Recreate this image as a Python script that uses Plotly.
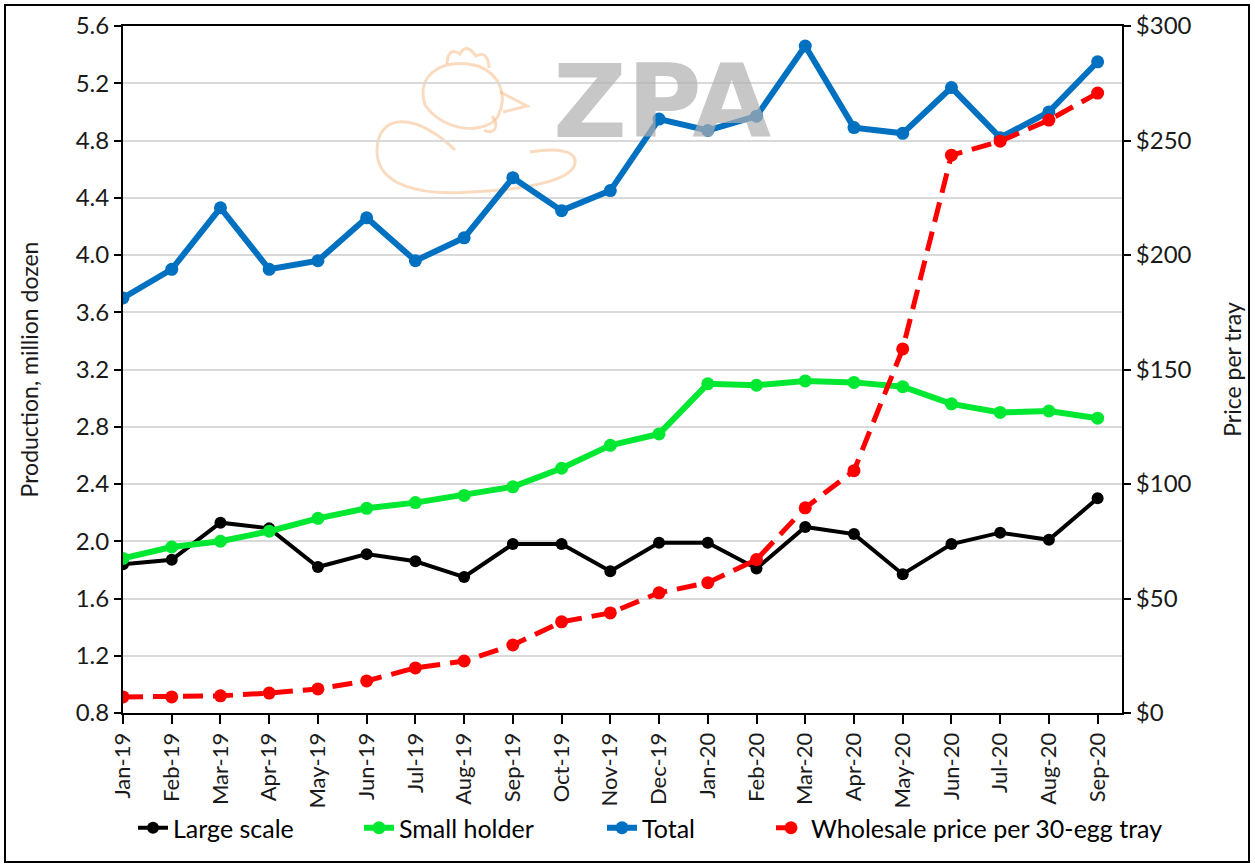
import plotly.graph_objects as go

months = ["Jan-19", "Feb-19", "Mar-19", "Apr-19", "May-19", "Jun-19", "Jul-19",
          "Aug-19", "Sep-19", "Oct-19", "Nov-19", "Dec-19", "Jan-20", "Feb-20",
          "Mar-20", "Apr-20", "May-20", "Jun-20", "Jul-20", "Aug-20", "Sep-20"]

large_scale = [1.84, 1.87, 2.13, 2.09, 1.82, 1.91, 1.86, 1.75, 1.98, 1.98, 1.79,
               1.99, 1.99, 1.81, 2.10, 2.05, 1.77, 1.98, 2.06, 2.01, 2.30]
small_holder = [1.88, 1.96, 2.00, 2.07, 2.16, 2.23, 2.27, 2.32, 2.38, 2.51, 2.67,
                2.75, 3.10, 3.09, 3.12, 3.11, 3.08, 2.96, 2.90, 2.91, 2.86]
total = [3.70, 3.90, 4.33, 3.90, 3.96, 4.26, 3.96, 4.12, 4.54, 4.31, 4.45,
         4.95, 4.87, 4.97, 5.46, 4.89, 4.85, 5.17, 4.82, 5.00, 5.35]
price = [7, 7, 7.5, 8.7, 10.5, 14, 19.7, 22.7, 29.7, 39.8, 43.7,
         52.5, 56.9, 67, 89.6, 105.8, 159, 243.6, 249.7, 258.9, 270.7]

FONT = "Lato"
TXT = "#1a1a1a"
PL, PW, PT, PH = 123, 999, 26, 687


def px(x):
    return (x - PL) / PW


def py(y):
    return (PT + PH - y) / PH


fig = go.Figure()
fig.add_trace(go.Scatter(x=months, y=large_scale, name="Large scale", legend="legend",
                         mode="lines+markers", line=dict(color="#000000", width=4),
                         marker=dict(size=12, color="#000000")))
fig.add_trace(go.Scatter(x=months, y=small_holder, name="Small holder", legend="legend2",
                         mode="lines+markers", line=dict(color="#00E832", width=6),
                         marker=dict(size=13, color="#00E832")))
fig.add_trace(go.Scatter(x=months, y=total, name="Total", legend="legend3",
                         mode="lines+markers", line=dict(color="#0070C0", width=6),
                         marker=dict(size=13, color="#0070C0")))
fig.add_trace(go.Scatter(x=months, y=price, name="Wholesale price per 30-egg tray",
                         legend="legend4", mode="lines+markers", yaxis="y2",
                         line=dict(color="#FF0000", width=5, dash="20px,10px"),
                         marker=dict(size=13, color="#FF0000")))


def leg(text_x):
    # legend whose entry text begins near pixel text_x
    return dict(orientation="h", x=px(text_x - 41), xanchor="left",
                y=py(828), yanchor="middle",
                font=dict(size=25, color="#000000"), bgcolor="rgba(0,0,0,0)")


fig.update_layout(
    width=1255, height=868,
    margin=dict(l=PL, r=1255 - PL - PW, t=PT, b=868 - PT - PH),
    paper_bgcolor="white", plot_bgcolor="white",
    font=dict(family=FONT, size=22, color=TXT),
    showlegend=True,
    legend=leg(174), legend2=leg(400), legend3=leg(643), legend4=leg(812),
    xaxis=dict(type="category", range=[0, 20.5], tickangle=-90, automargin=False,
               showline=True, linecolor="#000000", linewidth=2, mirror=True,
               ticks="outside", ticklen=9, tickcolor="#000000", tickwidth=2,
               showgrid=False, tickfont=dict(size=22, color=TXT)),
    yaxis=dict(range=[0.8, 5.6], dtick=0.4, tick0=0.8, tickformat=".1f", automargin=False,
               showline=True, linecolor="#000000", linewidth=2,
               ticks="outside", ticklen=7, tickcolor="#000000", tickwidth=2,
               showgrid=True, gridcolor="#D9D9D9", gridwidth=2, zeroline=False,
               title=dict(text="Production, million dozen", font=dict(size=23), standoff=31),
               tickfont=dict(size=24, color=TXT)),
    yaxis2=dict(range=[0, 300], dtick=50, tick0=0, tickprefix="$", overlaying="y",
                side="right", automargin=False, showline=True, linecolor="#000000", linewidth=2,
                ticks="outside", ticklen=7, tickcolor="#000000", tickwidth=2, showgrid=False,
                zeroline=False,
                title=dict(text="Price per tray", font=dict(size=23), standoff=34),
                tickfont=dict(size=24, color=TXT)),
)

# watermark: faint hen outline + ZPA letters
def path(cmds):
    out = []
    for c in cmds:
        if isinstance(c, str):
            out.append(c)
        else:
            out.append(f"{px(c[0]):.4f},{py(c[1]):.4f}")
    return " ".join(out)


hen_color = "rgba(245,190,140,0.55)"
hen_paths = [
    # body / wing outline
    ["M", (455, 150), "C", (420, 115), (378, 110), (377, 150), "C", (376, 185), (420, 196),
     (470, 192), "C", (520, 190), (572, 182), (575, 163), "C", (577, 150), (555, 148), (530, 152)],
    # head
    ["M", (425, 105), "C", (415, 72), (445, 58), (478, 66), "C", (500, 74), (508, 96), (498, 116),
     "C", (488, 134), (445, 134), (425, 105)],
    # comb
    ["M", (447, 64), "Q", (448, 46), (460, 54), "Q", (466, 42), (476, 56), "Q", (488, 50), (489, 68)],
    # beak
    ["M", (500, 92), "L", (527, 106), "L", (503, 112)],
    # wattle
    ["M", (492, 116), "C", (500, 126), (494, 136), (484, 130)],
]
for p in hen_paths:
    fig.add_shape(type="path", xref="paper", yref="paper", path=path(p),
                  line=dict(color=hen_color, width=3), layer="below")

fig.add_annotation(text="<b>ZPA</b>", xref="paper", yref="paper",
                   x=px(662), y=py(102), xanchor="center",
                   yanchor="middle", showarrow=False,
                   font=dict(family="DejaVu Sans", size=102, color="rgba(175,175,175,0.7)"))

# outer border
fig.add_shape(type="rect", xref="paper", yref="paper",
              x0=px(5), x1=px(1249), y0=py(862), y1=py(5),
              line=dict(color="#000000", width=2), layer="below")

fig.write_html("out.html", config={"displayModeBar": False},
               post_script="document.body.style.margin='0px';")
